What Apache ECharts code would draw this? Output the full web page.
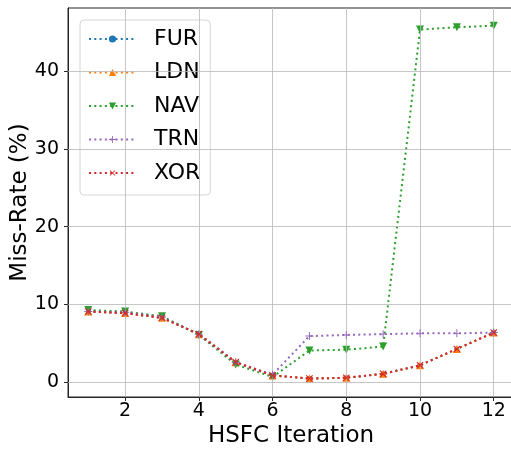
<!DOCTYPE html>
<html><head><meta charset="utf-8">
<script src="https://cdn.jsdelivr.net/npm/echarts@6/dist/echarts.min.js"></script>
<style>html,body{margin:0;padding:0;background:#fff}#c{width:511px;height:454px}</style>
</head><body><div id="c"></div>
<script>
const iterations = [1,2,3,4,5,6,7,8,9,10,11,12];
const FUR = [9.1, 8.9, 8.3, 6.2, 2.6, 0.9, 0.5, 0.6, 1.1, 2.2, 4.3, 6.4];
const LDN = [9.1, 8.9, 8.3, 6.2, 2.6, 0.9, 0.5, 0.6, 1.1, 2.2, 4.3, 6.4];
const NAV = [9.3, 9.1, 8.5, 6.1, 2.3, 0.7, 4.1, 4.2, 4.6, 45.3, 45.6, 45.8];
const TRN = [9.1, 9.0, 8.4, 6.2, 2.6, 1.0, 5.95, 6.1, 6.2, 6.3, 6.3, 6.4];
const XOR = [9.1, 8.9, 8.3, 6.2, 2.6, 0.9, 0.5, 0.6, 1.1, 2.2, 4.3, 6.4];
const xTicks = [2,4,6,8,10,12];
const yTicks = [0,10,20,30,40];
const seriesNames = ['FUR','LDN','NAV','TRN','XOR'];

const colors = ['#1f77b4','#ff7f0e','#2ca02c','#9467bd','#d62728'];
const plusPath = 'path://M-0.12,-1H0.12V-0.12H1V0.12H0.12V1H-0.12V0.12H-1V-0.12H-0.12Z';
const symbols = [
  {symbol:'circle', size:5, rotate:0},
  {symbol:'triangle', size:8, rotate:0},
  {symbol:'triangle', size:8, rotate:180},
  {symbol:plusPath, size:8, rotate:0},
  {symbol:plusPath, size:9, rotate:45}
];
const dataArr = [FUR, LDN, NAV, TRN, XOR];
const fam = 'DejaVu Sans';

const series = seriesNames.map((n,i)=>({
  name:n, type:'line', z: 2+i,
  data: iterations.map((x,j)=>[x, dataArr[i][j]]),
  symbol: symbols[i].symbol, symbolSize: symbols[i].size, symbolRotate: symbols[i].rotate,
  showAllSymbol: true,
  lineStyle:{color:colors[i], width:2, type:[2,3.3]},
  itemStyle:{color:colors[i]},
  emphasis:{disabled:true},
  animation:false
}));
// gridlines
series.unshift({
  type:'line', data:[], z:0, silent:true, animation:false,
  markLine:{
    silent:true, symbol:'none', label:{show:false}, animation:false,
    lineStyle:{color:'#b8b8b8', width:0.8, type:'solid'},
    data: xTicks.map(v=>({xAxis:v})).concat(yTicks.map(v=>({yAxis:v})))
  }
});

const chart = echarts.init(document.getElementById('c'), null, {renderer:'canvas'});
chart.setOption({
  animation:false,
  grid:{left:68, top:8, width:446, height:389, show:true, borderColor:'#262626', borderWidth:1,
        containLabel:false, outerBoundsMode:'none'},
  xAxis:{
    type:'value', min:0.45, max:12.55,
    name:'HSFC Iteration', nameLocation:'middle', nameGap:28, nameMoveOverlap:false,
    nameTextStyle:{fontFamily:fam, fontSize:23, color:'#000'},
    axisLine:{onZero:false, lineStyle:{color:'#262626', width:1}},
    axisTick:{show:true, length:4, inside:false, customValues:xTicks, lineStyle:{color:'#262626'}},
    axisLabel:{customValues:xTicks, fontFamily:fam, fontSize:19, color:'#000', margin:5},
    splitLine:{show:false}
  },
  yAxis:{
    type:'value', min:-1.87, max:48.07,
    name:'Miss-Rate (%)', nameLocation:'middle', nameGap:36, nameMoveOverlap:false,
    nameTextStyle:{fontFamily:fam, fontSize:23, color:'#000'},
    axisLine:{show:true, onZero:false, lineStyle:{color:'#262626', width:1}},
    axisTick:{show:true, length:4, inside:false, customValues:yTicks, lineStyle:{color:'#262626'}},
    axisLabel:{customValues:yTicks, fontFamily:fam, fontSize:19, color:'#000', margin:9},
    splitLine:{show:false}
  },
  legend:{
    data: seriesNames, left:80, top:20, orient:'vertical',
    itemWidth:47, itemHeight:9, itemGap:11.5,
    padding:[8,10,11,8],
    backgroundColor:'rgba(255,255,255,0.8)', borderColor:'#d6d6d6', borderWidth:1, borderRadius:4,
    textStyle:{fontFamily:fam, fontSize:22, color:'#000', padding:[0,0,0,13], lineHeight:22}
  },
  series: series
});
</script></body></html>
